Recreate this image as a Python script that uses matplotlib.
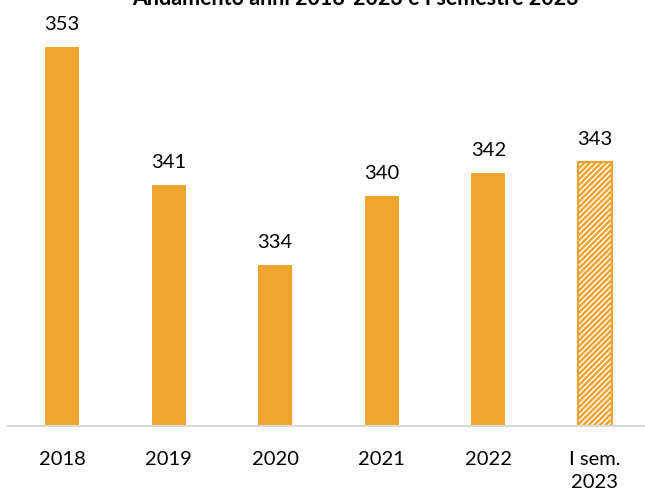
import matplotlib
matplotlib.use("Agg")
import matplotlib.pyplot as plt
import numpy as np

categories = ["2018", "2019", "2020", "2021", "2022", "I sem.\n2023"]
values = [353, 341, 334, 340, 342, 343]
hatched = [False, False, False, False, False, True]

bar_color = "#F0A430"

plt.rcParams["font.family"] = ["Lato", "DejaVu Sans"]

fig = plt.figure(figsize=(6.45, 4.93), dpi=100)
ax = fig.add_axes([0.0124, 0.136, 0.9876, 0.816])

x = np.arange(len(categories))
for xi, v, h in zip(x, values, hatched):
    if h:
        ax.bar(xi, v - 320, bottom=320, width=0.32, color=bar_color,
               edgecolor="white", hatch="//////", linewidth=0)
        ax.bar(xi, v - 320, bottom=320, width=0.32, facecolor="none",
               edgecolor=bar_color, linewidth=1.5)
    else:
        ax.bar(xi, v - 320, bottom=320, width=0.32, color=bar_color)
    ax.annotate(str(v), (xi, v), xytext=(0, 12), textcoords="offset points",
                ha="center", va="baseline", fontsize=14.5)

ax.set_xlim(-0.507, 5.47)
ax.set_ylim(320, 355)
ax.set_yticks([])
ax.set_xticks(x)
ax.set_xticklabels(categories, fontsize=14.5, linespacing=1.45)
ax.tick_params(axis="x", length=0, pad=18)
for s in ["top", "right", "left"]:
    ax.spines[s].set_visible(False)
ax.spines["bottom"].set_color("#D9D9D9")
ax.spines["bottom"].set_linewidth(1.5)

fig.text(0.551, 0.99, "Andamento anni 2018-2023 e I semestre 2023",
         ha="center", va="baseline", fontsize=15.5, fontweight="bold")

fig.savefig("out.png", dpi=100)
